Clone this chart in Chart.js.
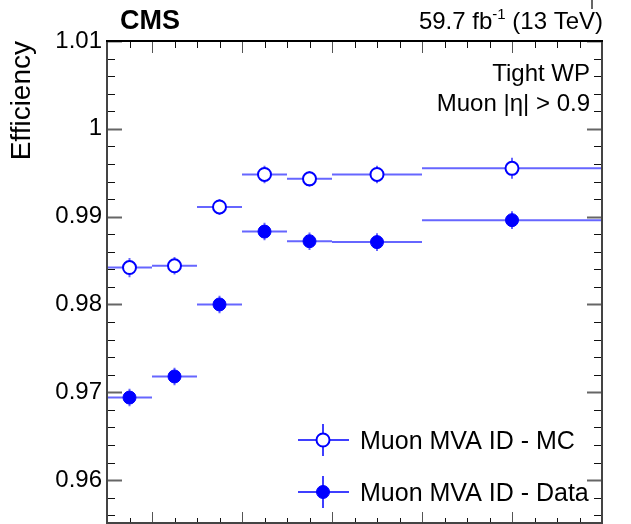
<!DOCTYPE html>
<html>
<head>
<meta charset="utf-8">
<title>Muon MVA ID efficiency</title>
<script src="https://cdn.jsdelivr.net/npm/chart.js@4/dist/chart.umd.min.js"></script>
<style>
  html, body { margin: 0; padding: 0; background: #fff; overflow: hidden; }
  #wrap { width: 631px; height: 524px; }
</style>
</head>
<body>
<div id="wrap"><canvas id="eff" width="631" height="524"></canvas></div>
<script>
// pT bins (GeV) and efficiencies per bin
var binEdges = [10, 20, 30, 40, 50, 60, 80, 120];
var effMC = [0.9842, 0.9844, 0.9911, 0.9948, 0.9943, 0.9948, 0.9955];
var errMC = [0.0011, 0.0010, 0.0009, 0.0010, 0.0009, 0.0010, 0.0012];
var effData = [0.9694, 0.9718, 0.9800, 0.9883, 0.9872, 0.9871, 0.9896];
var errData = [0.0010, 0.0010, 0.0010, 0.0010, 0.0010, 0.0010, 0.0010];
var yTickValues = [0.96, 0.97, 0.98, 0.99, 1.00, 1.01];
var yTickLabels = ['0.96', '0.97', '0.98', '0.99', '1', '1.01'];
var legendLabels = ['Muon MVA ID - MC', 'Muon MVA ID - Data'];

var BLUE = '#0000ff';
var BAR = 'rgba(0, 0, 255, 0.6)';
var FONT = '"Liberation Sans", Arial, Helvetica, sans-serif';

function toPoints(vals) {
  return vals.map(function(v, i) {
    return { x: (binEdges[i] + binEdges[i + 1]) / 2, y: v };
  });
}

// horizontal bin width + vertical stat error, drawn under the markers
var errorBars = {
  id: 'errorBars',
  beforeDatasetsDraw: function(chart) {
    var ctx = chart.ctx, xs = chart.scales.x, ys = chart.scales.y, a = chart.chartArea;
    ctx.save();
    ctx.beginPath();
    ctx.rect(a.left, a.top, a.right - a.left, a.bottom - a.top);
    ctx.clip();
    ctx.strokeStyle = BAR;
    ctx.lineWidth = 2;
    chart.data.datasets.forEach(function(ds) {
      ds.data.forEach(function(p, i) {
        var x0 = xs.getPixelForValue(binEdges[i]);
        var x1 = xs.getPixelForValue(binEdges[i + 1]);
        var xc = xs.getPixelForValue(p.x);
        var yc = ys.getPixelForValue(p.y);
        var yLo = ys.getPixelForValue(p.y - ds.yErr[i]);
        var yHi = ys.getPixelForValue(p.y + ds.yErr[i]);
        ctx.beginPath();
        ctx.moveTo(x0, yc); ctx.lineTo(x1, yc);
        ctx.moveTo(xc, yLo); ctx.lineTo(xc, yHi);
        ctx.stroke();
      });
    });
    ctx.restore();
  }
};

// ROOT-like frame with ticks on all four sides, plus labels and legend
var frame = {
  id: 'frame',
  afterDraw: function(chart) {
    var ctx = chart.ctx, xs = chart.scales.x, ys = chart.scales.y, a = chart.chartArea;
    var k, px, py, major;
    ctx.save();

    // x ticks every 5, major every 20
    for (k = 10; k <= 120; k += 5) {
      px = Math.round(xs.getPixelForValue(k)) + 0.5;
      major = (k % 20 === 0);
      ctx.strokeStyle = major ? '#555' : '#111';
      ctx.lineWidth = 1;
      ctx.beginPath();
      ctx.moveTo(px, a.bottom); ctx.lineTo(px, a.bottom - (major ? 12 : 6));
      ctx.moveTo(px, a.top); ctx.lineTo(px, a.top + (major ? 12 : 7));
      ctx.stroke();
    }
    // y ticks every 0.002, major every 0.01
    for (k = 478; k <= 505; k++) {
      py = Math.round(ys.getPixelForValue(k / 500)) + 0.5;
      major = (k % 5 === 0);
      ctx.strokeStyle = major ? '#666' : '#111';
      ctx.lineWidth = major ? 2 : 1;
      ctx.beginPath();
      ctx.moveTo(a.left, py); ctx.lineTo(a.left + (major ? 15 : 8), py);
      ctx.moveTo(a.right, py); ctx.lineTo(a.right - (major ? 15 : 8), py);
      ctx.stroke();
    }

    ctx.lineWidth = 2;
    ctx.strokeStyle = '#444';
    ctx.beginPath();
    ctx.moveTo(a.left, a.bottom); ctx.lineTo(a.left, a.top);
    ctx.moveTo(a.right, a.top); ctx.lineTo(a.right, a.bottom);
    ctx.moveTo(a.left, a.bottom - 1); ctx.lineTo(a.right, a.bottom - 1);
    ctx.stroke();
    ctx.strokeStyle = '#000';
    ctx.beginPath();
    ctx.moveTo(a.left - 1, a.top); ctx.lineTo(a.right + 1, a.top);
    ctx.stroke();

    // stray tick above the frame
    ctx.lineWidth = 1.5;
    ctx.strokeStyle = '#333';
    ctx.beginPath();
    ctx.moveTo(592, 0); ctx.lineTo(592, 9);
    ctx.stroke();

    // header
    ctx.fillStyle = '#000';
    ctx.textBaseline = 'alphabetic';
    ctx.textAlign = 'left';
    ctx.font = 'bold 27px ' + FONT;
    ctx.fillText('CMS', 120, 29);

    ctx.font = '24px ' + FONT;
    var t1 = '59.7 fb', t3 = ' (13 TeV)';
    var w1 = ctx.measureText(t1).width, w3 = ctx.measureText(t3).width;
    ctx.font = '15px ' + FONT;
    var w2 = ctx.measureText('-1').width;
    var xr = 603, x0 = xr - w1 - w2 - w3;
    ctx.font = '24px ' + FONT;
    ctx.fillText(t1, x0, 29);
    ctx.fillText(t3, x0 + w1 + w2, 29);
    ctx.font = '15px ' + FONT;
    ctx.fillText('-1', x0 + w1, 19);

    ctx.font = '24px ' + FONT;
    ctx.textAlign = 'right';
    ctx.fillText('Tight WP', 590, 81);
    ctx.fillText('Muon |\u03b7| > 0.9', 590, 111);

    // legend
    var rows = [440, 492];
    ctx.textAlign = 'left';
    ctx.font = '25px ' + FONT;
    rows.forEach(function(ry, i) {
      ctx.strokeStyle = BLUE;
      ctx.lineWidth = 1.5;
      ctx.beginPath();
      ctx.moveTo(298, ry); ctx.lineTo(349, ry);
      ctx.moveTo(323, ry - 16); ctx.lineTo(323, ry + 16);
      ctx.stroke();
      ctx.beginPath();
      ctx.arc(323, ry, 6.5, 0, Math.PI * 2);
      ctx.fillStyle = i === 0 ? '#fff' : BLUE;
      ctx.fill();
      ctx.lineWidth = i === 0 ? 2 : 1;
      ctx.stroke();
      ctx.fillStyle = '#000';
      ctx.fillText(legendLabels[i], 360, ry + 9);
    });

    ctx.restore();
  }
};

new Chart(document.getElementById('eff'), {
  type: 'scatter',
  data: {
    datasets: [
      {
        label: legendLabels[0],
        data: toPoints(effMC),
        yErr: errMC,
        pointStyle: 'circle',
        pointRadius: 6.5,
        pointBackgroundColor: '#fff',
        pointBorderColor: BLUE,
        pointBorderWidth: 2
      },
      {
        label: legendLabels[1],
        data: toPoints(effData),
        yErr: errData,
        pointStyle: 'circle',
        pointRadius: 6.5,
        pointBackgroundColor: BLUE,
        pointBorderColor: BLUE,
        pointBorderWidth: 1
      }
    ]
  },
  options: {
    responsive: false,
    animation: false,
    layout: { autoPadding: false, padding: { top: 41, right: 29, bottom: 0, left: 0 } },
    plugins: {
      legend: { display: false },
      tooltip: { enabled: false }
    },
    scales: {
      x: { type: 'linear', min: binEdges[0], max: binEdges[binEdges.length - 1], display: false },
      y: {
        type: 'linear',
        position: 'left',
        min: 0.955,
        max: 1.01,
        afterFit: function(s) {
          // fixed axis width, and no room reserved for the end labels
          s.width = 107;
          s.paddingTop = 0;
          s.paddingBottom = 0;
        },
        afterBuildTicks: function(s) {
          s.ticks = yTickValues.map(function(v) { return { value: v }; });
        },
        ticks: {
          padding: 5,
          color: '#000',
          font: { family: FONT, size: 24 },
          callback: function(v) {
            var i = yTickValues.findIndex(function(t) { return Math.abs(t - v) < 1e-9; });
            return yTickLabels[i];
          }
        },
        grid: { display: false, drawTicks: false },
        border: { display: false },
        title: {
          display: true,
          text: 'Efficiency',
          align: 'end',
          color: '#000',
          font: { family: FONT, size: 28 },
          padding: { top: 5, bottom: 0 }
        }
      }
    }
  },
  plugins: [errorBars, frame]
});
</script>
</body>
</html>
